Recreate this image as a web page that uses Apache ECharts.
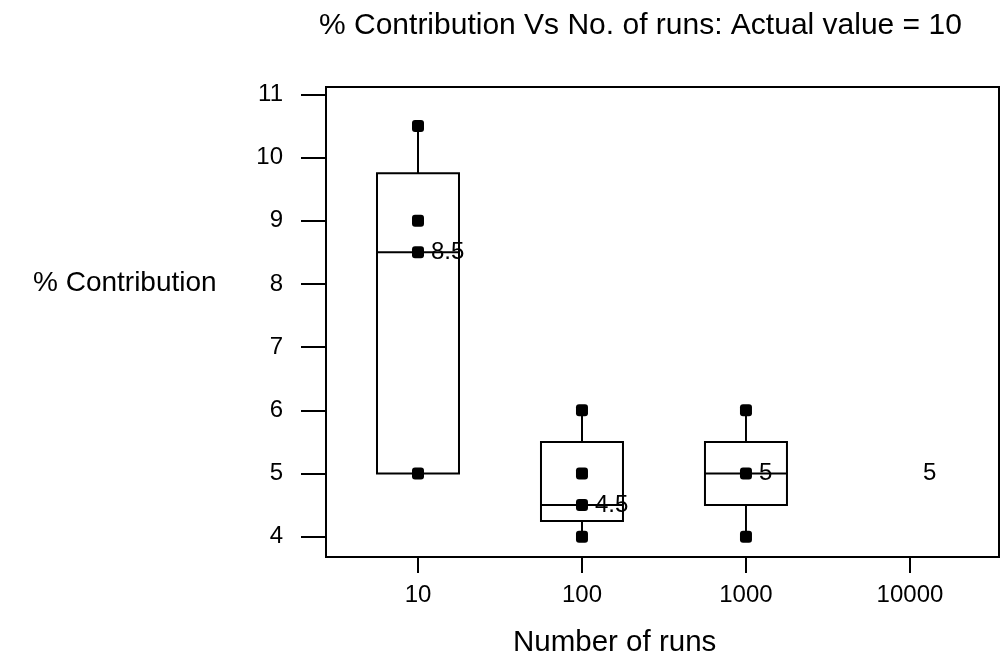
<!DOCTYPE html>
<html>
<head>
<meta charset="utf-8">
<script src="https://cdn.jsdelivr.net/npm/echarts@6/dist/echarts.min.js"></script>
<style>
html,body{margin:0;padding:0;background:#fff;}
#chart{width:1002px;height:660px;}
</style>
</head>
<body>
<div id="chart"></div>
<script>
// ---- data ----
const categories = ['10', '100', '1000', '10000'];
const yTicks = [4, 5, 6, 7, 8, 9, 10, 11];
// box statistics for the first three categories
const whiskerLow  = [5, 4, 4];
const q1          = [5, 4.25, 4.5];
const median      = [8.5, 4.5, 5];
const q3          = [9.75, 5.5, 5.5];
const whiskerHigh = [10.5, 6, 6];
// individual observations per category
const points10    = [10.5, 9, 8.5, 5];
const points100   = [6, 5, 4.5, 4];
const points1000  = [6, 5, 4];
const points10000 = [];
// median labels shown for each category
const medianLabels = [8.5, 4.5, 5, 5];

const FONT = 'Liberation Sans, Arial, sans-serif';
const catPos = categories.map((c, i) => i + 1);

const boxData = whiskerLow.map((v, i) => [catPos[i], whiskerLow[i], q1[i], median[i], q3[i], whiskerHigh[i]]);
const pointData = [];
[points10, points100, points1000, points10000].forEach((arr, i) => {
  arr.forEach(v => pointData.push([catPos[i], v]));
});
const labelData = medianLabels.map((v, i) => [catPos[i], v]);

const chart = echarts.init(document.getElementById('chart'), null, {renderer: 'canvas'});
const lineStyle = {stroke: '#000', lineWidth: 2};

chart.setOption({
  animation: false,
  backgroundColor: '#fff',
  title: [
    {text: '% Contribution Vs No. of runs: Actual value = 10', left: 314, top: 6,
     textStyle: {fontFamily: FONT, fontSize: 30, fontWeight: 'normal', color: '#000'}},
    {text: '% Contribution', left: 28, top: 264,
     textStyle: {fontFamily: FONT, fontSize: 28, fontWeight: 'normal', color: '#000'}},
    {text: 'Number of runs', left: 508, top: 623,
     textStyle: {fontFamily: FONT, fontSize: 29.5, fontWeight: 'normal', color: '#000'}}
  ],
  grid: {left: 326, top: 87, width: 673, height: 470, show: true,
         borderColor: '#000', borderWidth: 2, backgroundColor: 'transparent'},
  xAxis: {
    type: 'value', min: 0.439, max: 4.543,
    axisLine: {show: false},
    splitLine: {show: false},
    axisTick: {show: true, inside: false, length: 16, customValues: catPos,
               lineStyle: {color: '#000', width: 2}},
    axisLabel: {show: true, margin: 26, customValues: catPos,
                formatter: v => categories[Math.round(v) - 1],
                fontFamily: FONT, fontSize: 24, color: '#000'}
  },
  yAxis: {
    type: 'value', min: 3.679, max: 11.116,
    axisLine: {show: false},
    splitLine: {show: false},
    axisTick: {show: true, inside: false, length: 25, customValues: yTicks,
               lineStyle: {color: '#000', width: 2}},
    axisLabel: {show: true, margin: 43, customValues: yTicks,
                fontFamily: FONT, fontSize: 24, color: '#000'}
  },
  series: [
    {
      type: 'custom',
      data: boxData,
      encode: {x: 0, y: [1, 2, 3, 4, 5]},
      renderItem: function (params, api) {
        const x = api.value(0);
        const lo = api.value(1), a = api.value(2), m = api.value(3), b = api.value(4), hi = api.value(5);
        const tl = api.coord([x - 0.25, b]);
        const br = api.coord([x + 0.25, a]);
        const mL = api.coord([x - 0.25, m]);
        const mR = api.coord([x + 0.25, m]);
        const pHi = api.coord([x, hi]);
        const pB = api.coord([x, b]);
        const pA = api.coord([x, a]);
        const pLo = api.coord([x, lo]);
        return {
          type: 'group',
          children: [
            {type: 'rect', shape: {x: tl[0], y: tl[1], width: br[0] - tl[0], height: br[1] - tl[1]},
             style: {fill: 'transparent', stroke: '#000', lineWidth: 2}},
            {type: 'line', shape: {x1: mL[0], y1: mL[1], x2: mR[0], y2: mR[1]}, style: lineStyle},
            {type: 'line', shape: {x1: pB[0], y1: pB[1], x2: pHi[0], y2: pHi[1]}, style: lineStyle},
            {type: 'line', shape: {x1: pA[0], y1: pA[1], x2: pLo[0], y2: pLo[1]}, style: lineStyle}
          ]
        };
      },
      z: 2
    },
    {
      type: 'scatter',
      data: pointData,
      symbol: 'roundRect',
      symbolSize: 12,
      itemStyle: {color: '#000', opacity: 1},
      emphasis: {disabled: true},
      z: 3
    },
    {
      type: 'scatter',
      data: labelData,
      symbolSize: 0,
      itemStyle: {color: '#000', opacity: 1},
      emphasis: {disabled: true},
      label: {show: true, position: 'right', distance: 13, opacity: 1,
              formatter: p => String(p.value[1]),
              fontFamily: FONT, fontSize: 24, color: '#000'},
      z: 4
    }
  ]
});
</script>
</body>
</html>
